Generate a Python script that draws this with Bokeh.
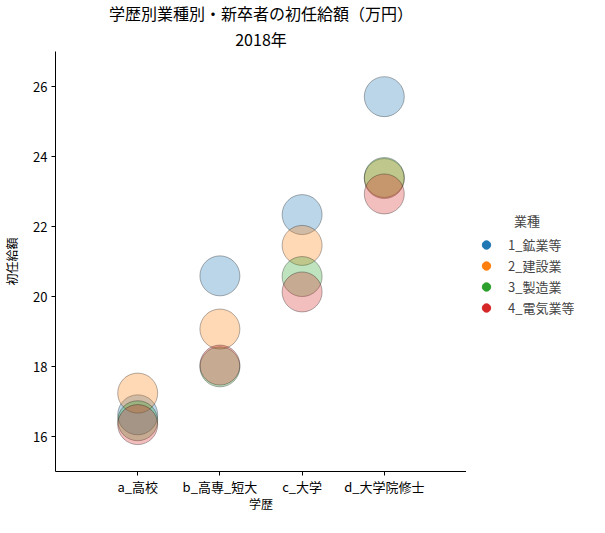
from bokeh.plotting import figure
from bokeh.layouts import row
from bokeh.models import FactorRange, Range1d, Legend, LegendItem, ColumnDataSource, FixedTicker, Title
from bokeh.embed import file_html
from bokeh.resources import INLINE

# ---- data ----
education = ["a_高校", "b_高専_短大", "c_大学", "d_大学院修士"]
industries = ["1_鉱業等", "2_建設業", "3_製造業", "4_電気業等"]
mining = [16.62, 20.59, 22.34, 25.71]
construction = [17.24, 19.07, 21.46, 23.37]
manufacturing = [16.45, 17.99, 20.57, 23.40]
electricity = [16.34, 18.04, 20.13, 22.93]
series = [mining, construction, manufacturing, electricity]
colors = ["#1f77b4", "#ff7f0e", "#2ca02c", "#d62728"]
y_ticks = [16, 18, 20, 22, 24, 26]
title_lines = ["学歴別業種別・新卒者の初任給額（万円）", "2018年"]

FONT = "Noto Sans CJK JP"
H = 514

p = figure(
    x_range=FactorRange(factors=education, range_padding=0.5, range_padding_units="absolute"),
    y_range=Range1d(15, 27),
    width=466, height=H,
    min_border_left=49, min_border_top=45, min_border_bottom=30, min_border_right=0,
    output_backend="svg", toolbar_location=None,
)
p.outline_line_color = None
p.xgrid.visible = False
p.ygrid.visible = False
p.background_fill_color = "white"
p.border_fill_color = "white"

# title lines: first added is closest to the frame
for txt, so in zip(reversed(title_lines), [2, -3]):
    p.add_layout(Title(text=txt, align="center", text_font=FONT, text_font_size="16px",
                       text_font_style="normal", text_color="black", standoff=so), "above")

for ax in (p.xaxis[0], p.yaxis[0]):
    ax.axis_line_color = "black"
    ax.axis_line_width = 1
    ax.major_tick_line_color = "black"
    ax.major_tick_out = 4
    ax.major_tick_in = 0
    ax.minor_tick_line_color = None
    ax.major_label_text_font = FONT
    ax.major_label_text_font_size = "13px"
    ax.major_label_text_color = "black"
    ax.axis_label_text_font = FONT
    ax.axis_label_text_font_size = "12px"
    ax.axis_label_text_font_style = "normal"
    ax.axis_label_text_color = "black"

p.xaxis.axis_label = "学歴"
p.yaxis.axis_label = "初任給額"
p.yaxis.ticker = FixedTicker(ticks=y_ticks)
p.yaxis.major_label_standoff = 4
p.xaxis.major_label_standoff = 1
p.yaxis.axis_label_standoff = 10
p.xaxis.axis_label_standoff = -4

for vals, c in zip(series, colors):
    src = ColumnDataSource(dict(x=education, y=vals))
    p.scatter("x", "y", source=src, size=40, fill_color=c, fill_alpha=0.3,
              line_color="black", line_alpha=0.3, line_width=1)

# ---- legend panel as a separate, axis-less figure ----
lf = figure(width=108, height=H, x_range=Range1d(0, 1), y_range=Range1d(0, 1),
            x_axis_location=None, y_axis_location=None,
            min_border_left=0, min_border_right=0, min_border_top=0, min_border_bottom=0,
            output_backend="svg", toolbar_location=None)
lf.outline_line_color = None
lf.xgrid.visible = False
lf.ygrid.visible = False
lf.border_fill_color = "white"
lf.background_fill_color = "white"

items = []
for name, c in zip(industries, colors):
    dummy = lf.scatter(x=[5], y=[5], size=9, fill_color=c, line_color=c)
    items.append(LegendItem(label=name, renderers=[dummy]))

legend = Legend(items=items, location=(9, 153),
                title="\u3000\u3000\u3000業種",
                title_text_font=FONT, title_text_font_size="13px", title_text_font_style="normal",
                title_standoff=4,
                label_text_font=FONT, label_text_font_size="13px",
                glyph_width=22, glyph_height=21, label_height=20, spacing=0,
                label_standoff=11, padding=0, margin=0,
                border_line_color=None, background_fill_alpha=0)
lf.add_layout(legend, "center")

layout = row(p, lf)
open("out.html", "w").write(file_html(layout, INLINE))
